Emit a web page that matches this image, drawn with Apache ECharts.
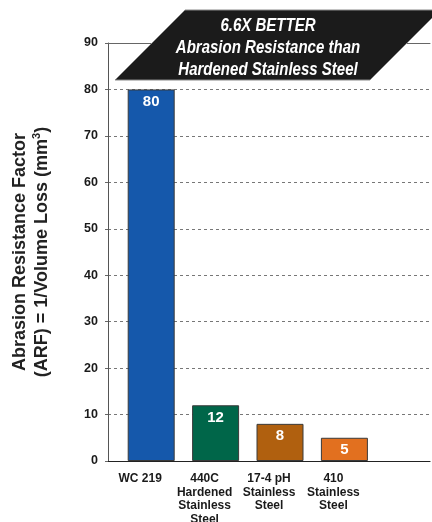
<!DOCTYPE html>
<html>
<head>
<meta charset="utf-8">
<script src="https://cdn.jsdelivr.net/npm/echarts@6/dist/echarts.min.js"></script>
<style>
html,body{margin:0;padding:0;background:#fff;}
#chart{width:432px;height:522px;}
</style>
</head>
<body>
<div id="chart"></div>
<script>
const categories = ['WC 219', '440C\nHardened\nStainless\nSteel', '17-4 pH\nStainless\nSteel', '410\nStainless\nSteel', ''];
const values = [80, 12, 8, 5];
const barColors = ['#1558ab', '#006649', '#b0600f', '#e2701f'];
const yTicks = { min: 0, max: 90, interval: 10 };
const bannerLines = ['6.6X BETTER', 'Abrasion Resistance than', 'Hardened Stainless Steel'];
const yTitle1 = 'Abrasion Resistance Factor';
const yTitle2 = '(ARF) = 1/Volume Loss (mm';
const yTitleSup = '3';

const chart = echarts.init(document.getElementById('chart'), null, { renderer: 'canvas' });
const font = "'Liberation Sans', Arial, Helvetica, sans-serif";

const option = {
  animation: false,
  backgroundColor: '#ffffff',
  grid: { left: 108, right: 2, top: 43, bottom: 61, outerBoundsMode: 'none', containLabel: false },
  xAxis: [{
    type: 'category',
    data: categories,
    position: 'bottom',
    axisLine: { show: true, lineStyle: { color: '#222', width: 1.2 } },
    axisTick: { show: false },
    axisLabel: {
      interval: 0, margin: 11, color: '#1a1a1a', fontFamily: font,
      fontWeight: 'bold', fontSize: 12, lineHeight: 13.5
    },
    splitLine: { show: false }
  }, {
    type: 'category',
    data: categories,
    position: 'top',
    axisLine: { show: true, lineStyle: { color: '#666', width: 1 } },
    axisTick: { show: false },
    axisLabel: { show: false }
  }],
  yAxis: {
    type: 'value',
    min: yTicks.min, max: yTicks.max, interval: yTicks.interval,
    axisLine: { show: true, lineStyle: { color: '#555', width: 1 } },
    axisTick: { show: true, length: 5, lineStyle: { color: '#666', type: [3, 2] } },
    axisLabel: { margin: 10, color: '#1a1a1a', fontFamily: font, fontWeight: 'bold', fontSize: 12.5 },
    splitLine: { show: true, lineStyle: { color: '#777', type: [3, 3], width: 1 } },
    name: '{t|' + yTitle1 + '}\n{t|' + yTitle2 + '}{s|' + yTitleSup + '}{t|)}',
    nameLocation: 'middle',
    nameGap: 55,
    nameRotate: 90,
    nameTextStyle: {
      rich: {
        t: { fontFamily: font, fontWeight: 'bold', fontSize: 18, color: '#222', lineHeight: 22 },
        s: { fontFamily: font, fontWeight: 'bold', fontSize: 11, color: '#222', lineHeight: 22, verticalAlign: 'top', padding: [0, 0, 8, 0] }
      }
    }
  },
  series: [{
    name: 'spacer',
    type: 'bar',
    data: [],
    barWidth: 22,
    barGap: '0%',
    silent: true
  }, {
    name: 'ARF',
    type: 'bar',
    barWidth: 47,
    data: values.map((v, i) => ({ value: v, itemStyle: { color: barColors[i] } })),
    itemStyle: { borderColor: '#3a3a3a', borderWidth: 1 },
    label: {
      show: true, position: 'insideTop', distance: 5,
      color: '#ffffff', fontFamily: font, fontWeight: 'bold', fontSize: 15
    }
  }],
  graphic: [{
    type: 'polygon',
    shape: { points: [[115, 80], [185, 10], [440, 10], [370, 80]] },
    style: { fill: '#1b1b1b', stroke: '#888', lineWidth: 1 },
    z: 100
  }].concat(bannerLines.map((t, i) => ({
    type: 'text',
    x: 268, y: 26 + i * 22,
    scaleX: 0.79,
    style: {
      x: 0, y: 0,
      text: t, fill: '#ffffff', align: 'center', verticalAlign: 'middle',
      font: 'italic bold 19px ' + font
    },
    z: 101
  })))
};
chart.setOption(option);
</script>
</body>
</html>
